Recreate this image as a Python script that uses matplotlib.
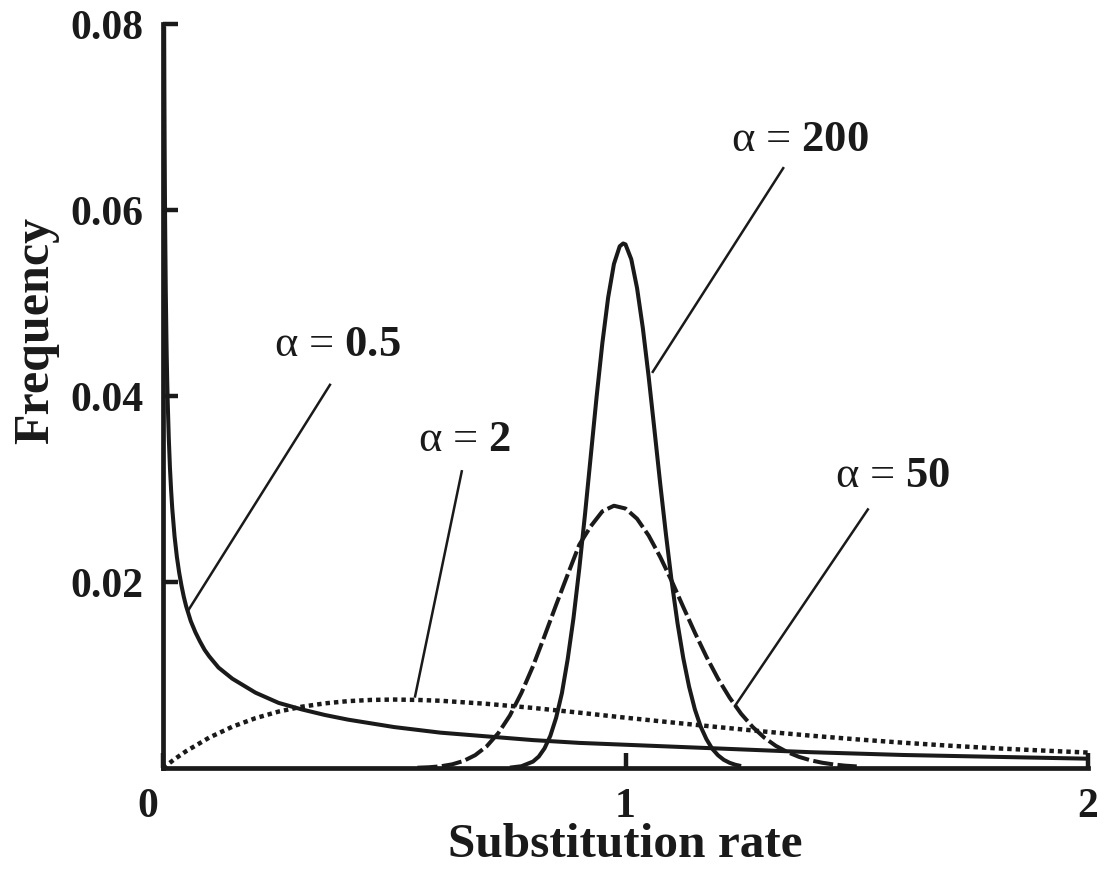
import matplotlib
matplotlib.use("Agg")
import matplotlib.pyplot as plt
import matplotlib.transforms as mtransforms

plt.rcParams["font.family"] = ["Liberation Serif", "DejaVu Serif"]
plt.rcParams["mathtext.fontset"] = "custom"
plt.rcParams["mathtext.rm"] = "Liberation Serif"
plt.rcParams["mathtext.bf"] = "Liberation Serif:bold"

# alpha = 0.5 (solid, L-shaped)
x_a05 = [0.0025, 0.003, 0.0035, 0.004, 0.0045, 0.005, 0.006, 0.0075, 0.008, 0.009, 0.01,
         0.0125, 0.015, 0.0175, 0.02, 0.025, 0.03, 0.035, 0.04, 0.045, 0.05, 0.06, 0.07,
         0.08, 0.09, 0.1, 0.12, 0.15, 0.2, 0.25, 0.3, 0.35, 0.4, 0.5, 0.6, 0.7, 0.8, 0.9,
         1.0, 1.2, 1.4, 1.6, 1.8, 2.0]
y_a05 = [0.0797, 0.0727, 0.0673, 0.0630, 0.0593, 0.0563, 0.0513, 0.0459, 0.0444, 0.0419,
         0.0397, 0.0355, 0.0323, 0.0299, 0.0279, 0.0249, 0.0227, 0.0210, 0.0196, 0.0184,
         0.0174, 0.0158, 0.0146, 0.0136, 0.0127, 0.0120, 0.0108, 0.0096, 0.0081, 0.0070,
         0.0063, 0.0057, 0.0052, 0.0044, 0.0038, 0.0034, 0.0030, 0.0027, 0.0025, 0.0021,
         0.0017, 0.0014, 0.0012, 0.0010]

# alpha = 2 (dotted)
x_a2 = [0.0, 0.025, 0.05, 0.1, 0.15, 0.2, 0.25, 0.3, 0.35, 0.4, 0.45, 0.5, 0.55, 0.6,
        0.7, 0.8, 0.9, 1.0, 1.1, 1.2, 1.3, 1.4, 1.5, 1.6, 1.7, 1.8, 1.9, 2.0]
y_a2 = [0.0, 0.00095, 0.00181, 0.00327, 0.00444, 0.00536, 0.00607, 0.00659, 0.00695,
        0.00719, 0.00732, 0.00736, 0.00732, 0.00723, 0.00690, 0.00646, 0.00595, 0.00541,
        0.00490, 0.00440, 0.00392, 0.00348, 0.00308, 0.00272, 0.00240, 0.00212, 0.00188,
        0.00166]

# alpha = 50 (dashed)
x_a50 = [0.55, 0.575, 0.6, 0.625, 0.65, 0.675, 0.7, 0.725, 0.75, 0.775, 0.8, 0.825, 0.85,
         0.875, 0.9, 0.925, 0.95, 0.975, 1.0, 1.025, 1.05, 1.075, 1.1, 1.125, 1.15, 1.175,
         1.2, 1.225, 1.25, 1.275, 1.3, 1.325, 1.35, 1.375, 1.4, 1.425, 1.45, 1.475, 1.5]
y_a50 = [0.00003, 0.00008, 0.00018, 0.00039, 0.00076, 0.00138, 0.00234, 0.00375, 0.00564,
         0.00808, 0.01095, 0.0142, 0.01754, 0.0208, 0.0240, 0.0260, 0.0276, 0.0282, 0.0279,
         0.0268, 0.0250, 0.0227, 0.0201, 0.0173, 0.01455, 0.01196, 0.00961, 0.00757,
         0.00583, 0.00441, 0.00327, 0.00238, 0.00171, 0.00120, 0.00083, 0.00057, 0.00038,
         0.00025, 0.00017]

# alpha = 200 (solid, narrow)
x_a200 = [0.75, 0.775, 0.8, 0.8125, 0.825, 0.8375, 0.85, 0.8625, 0.875, 0.8875, 0.9,
          0.9125, 0.925, 0.9375, 0.95, 0.9625, 0.975, 0.9875, 0.995, 1.0, 1.0125, 1.025,
          1.0375, 1.05, 1.0625, 1.075, 1.0875, 1.1, 1.1125, 1.125, 1.1375, 1.15, 1.1625,
          1.175, 1.1875, 1.2, 1.2125, 1.225, 1.2375, 1.25]
y_a200 = [0.00004, 0.00019, 0.00069, 0.00123, 0.00212, 0.00346, 0.0054, 0.00805, 0.0117,
          0.0161, 0.0214, 0.0273, 0.0336, 0.0399, 0.0457, 0.0506, 0.0542, 0.0561, 0.0564,
          0.0563, 0.0547, 0.0516, 0.0473, 0.0421, 0.0364, 0.0306, 0.0251, 0.0200, 0.01556,
          0.0118, 0.00874, 0.0063, 0.00446, 0.0031, 0.00207, 0.00137, 0.00088, 0.00056,
          0.00035, 0.00021]

labels = ["0.5", "2", "50", "200"]
label_xy = [(0.376, 0.0456), (0.653, 0.0354), (1.578, 0.0315), (1.377, 0.0676)]
leader_start = [(0.361, 0.0412), (0.646, 0.0319), (1.524, 0.0278), (1.341, 0.0645)]
leader_end = [(0.054, 0.0169), (0.545, 0.0077), (1.237, 0.0067), (1.059, 0.0426)]

ink = "#1a1a1a"
fig = plt.figure(figsize=(11.09, 8.70), dpi=100)
ax = fig.add_axes([163 / 1109, 1 - 769 / 870, (1088 - 163) / 1109, (769 - 25) / 870])

lw = 2.9
ax.plot(x_a05, y_a05, color=ink, lw=lw, solid_capstyle="butt", solid_joinstyle="round")
ax.plot(x_a2, y_a2, color=ink, lw=3.2, linestyle=(0, (1, 0.9)), dash_capstyle="butt")
ax.plot(x_a50, y_a50, color=ink, lw=lw, linestyle=(0, (5, 1.1)), dash_capstyle="butt")
ax.plot(x_a200, y_a200, color=ink, lw=lw, solid_capstyle="butt", solid_joinstyle="round")

# labels with leader lines
for lab, (tx, ty), (sx, sy), (ex, ey) in zip(labels, label_xy, leader_start, leader_end):
    ax.plot([sx, ex], [sy, ey], color=ink, lw=1.8)
    ax.text(tx, ty, "α = $\\mathbf{" + lab + "}$", fontsize=32, ha="center", va="center",
            color=ink)

ax.set_xlim(0, 2)
ax.set_ylim(0, 0.08)
ax.set_xticks([0, 1, 2])
ax.set_xticklabels(["0", "1", "2"])
ax.set_yticks([0.02, 0.04, 0.06, 0.08])
ax.set_yticklabels(["0.02", "0.04", "0.06", "0.08"])

for side in ["top", "right"]:
    ax.spines[side].set_visible(False)
for side in ["left", "bottom"]:
    ax.spines[side].set_linewidth(3.4)
    ax.spines[side].set_color(ink)

ax.tick_params(direction="in", length=11, width=3.2, color=ink, labelsize=30, pad=14)
for t in ax.get_xticklabels() + ax.get_yticklabels():
    t.set_fontweight("bold")
    t.set_color(ink)

# the "0" sits a little left of the origin
first = ax.get_xticklabels()[0]
first.set_transform(first.get_transform() + mtransforms.ScaledTranslation(-15 / 100, 0, fig.dpi_scale_trans))

ax.set_xlabel("Substitution rate", fontsize=35.5, fontweight="bold", color=ink)
ax.xaxis.set_label_coords(0.5, -0.1183)
ax.xaxis.label.set_verticalalignment("baseline")
ax.set_ylabel("Frequency", fontsize=36, fontweight="bold", color=ink)
ax.yaxis.set_label_coords(-0.137, 0.59)
ax.yaxis.label.set_verticalalignment("center")

fig.savefig("out.png", dpi=100)
